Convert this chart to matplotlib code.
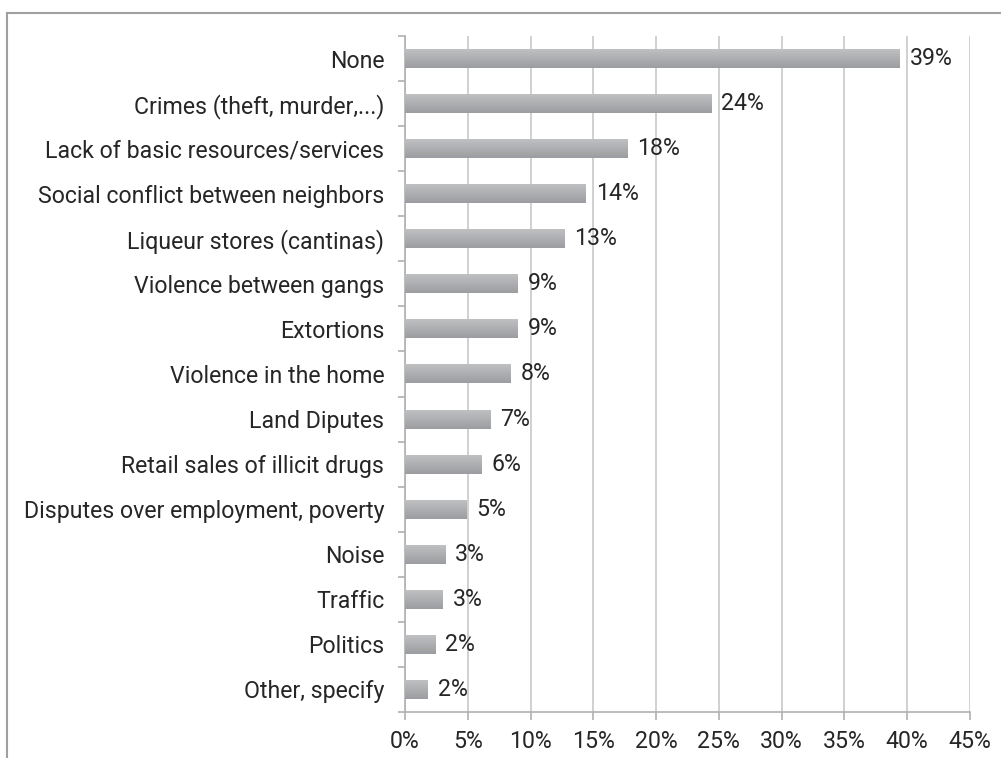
import numpy as np
import matplotlib
matplotlib.use("Agg")
import matplotlib.pyplot as plt
from matplotlib.colors import LinearSegmentedColormap
from matplotlib.lines import Line2D

plt.rcParams['font.family'] = ['Roboto', 'DejaVu Sans']

categories = [
    "None",
    "Crimes (theft, murder,...)",
    "Lack of basic resources/services",
    "Social conflict between neighbors",
    "Liqueur stores (cantinas)",
    "Violence between gangs",
    "Extortions",
    "Violence in the home",
    "Land Diputes",
    "Retail sales of illicit drugs",
    "Disputes over employment, poverty",
    "Noise",
    "Traffic",
    "Politics",
    "Other, specify",
]
values = [39.4, 24.4, 17.7, 14.4, 12.7, 9.0, 9.0, 8.4, 6.8, 6.1, 4.9, 3.2, 3.0, 2.4, 1.8]
xticks = [0, 5, 10, 15, 20, 25, 30, 35, 40, 45]

fig = plt.figure(figsize=(10.01, 7.58), dpi=100)
ax = fig.add_axes([405 / 1001, 1 - 712 / 758, 565 / 1001, 676 / 758])

n = len(categories)
ypos = np.arange(n)
bar_h = 0.42
fs = 16.7
txt = "#262626"

# grey vertical gradient inside each bar
grad = LinearSegmentedColormap.from_list("bar", ["#bfc0c2", "#9c9da0"])
g = np.linspace(0, 1, 64).reshape(-1, 1)
bars = ax.barh(ypos, values, height=bar_h, color="none", zorder=3)
for b in bars:
    x0, y0 = b.get_x(), b.get_y()
    w, h = b.get_width(), b.get_height()
    ax.imshow(g, cmap=grad, aspect="auto", zorder=3,
              extent=(x0, x0 + w, y0 + h, y0), interpolation="bilinear")

for y, v in zip(ypos, values):
    ax.text(v + 0.8, y, f"{round(v)}%", va="center", ha="left",
            fontsize=fs, color=txt, zorder=4)

ax.set_xlim(0, 45)
ax.set_ylim(n - 0.5, -0.5)
ax.set_xticks(xticks)
ax.set_xticklabels([f"{t}%" for t in xticks])
ax.set_yticks(ypos)
ax.set_yticklabels(categories)
ax.set_yticks(np.arange(n + 1) - 0.5, minor=True)

ax.grid(axis="x", color="#c8c8c8", linewidth=1.2, zorder=0)
ax.set_axisbelow(True)
for s in ["top", "right"]:
    ax.spines[s].set_visible(False)
for s in ["left", "bottom"]:
    ax.spines[s].set_color("#b0b0b0")
    ax.spines[s].set_linewidth(1.2)

ax.tick_params(axis="y", which="major", length=0, pad=15, labelsize=fs,
               labelcolor=txt)
ax.tick_params(axis="y", which="minor", length=5, width=1.2, color="#b0b0b0")
ax.tick_params(axis="x", which="major", length=6, width=1.2, color="#b0b0b0",
               pad=7, labelsize=fs, labelcolor=txt)

# outer frame, only top and left edges fall inside the image
fig.add_artist(Line2D([7 / 1001, 1], [1 - 13 / 758] * 2, color="#a0a0a0", lw=1.5))
fig.add_artist(Line2D([7 / 1001] * 2, [0, 1 - 13 / 758], color="#a0a0a0", lw=1.5))

fig.savefig("out.png", dpi=100)
